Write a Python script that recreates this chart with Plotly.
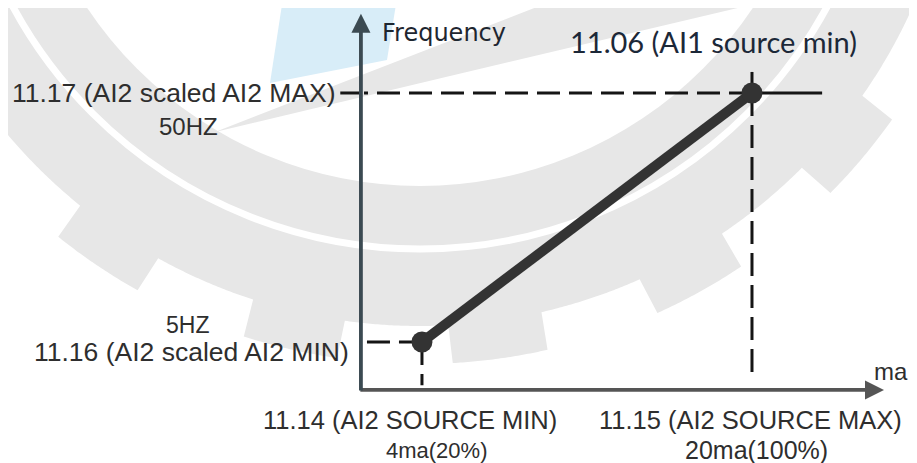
import numpy as np
import plotly.graph_objects as go

# === Datos: entrada analogica (mA) contra frecuencia de salida (Hz) ===
source_ma = [4, 20]
freq_hz = [5, 50]

W, H = 917, 463
OFF = 8  # margen por defecto del <body> en la pagina

# ejes (unidades de datos)
x_range = [-16.07, 28.0]
y_range = [-16.87, 65.36]
x0, y0 = 1.04, -3.67          # origen de los ejes dibujados
x_tip, y_tip = 26.4, 64.3     # puntas de flecha


def px(x):
    return (x - OFF) / (W - OFF)


def py(y):
    return 1 - (y - OFF) / (H - OFF)


def to_path(pts):
    return "M " + " L ".join(f"{px(a):.5f},{py(b):.5f}" for a, b in pts) + " Z"


# === Marca de agua (engranaje gris + bloque celeste) ===
cx, cy = 420, -214
ang = np.radians(np.linspace(-20, 200, 881))
teeth = [40, 61, 82, 103, 124, 145, 166, 19]
r = np.full_like(ang, 540.0)
for t in teeth:
    r[np.abs(np.degrees(ang) - t) < 5] = 578.0
gear = [(cx + rr * np.cos(a), cy + rr * np.sin(a)) for a, rr in zip(ang, r)] + [(cx, cy)]

shapes = [
    dict(type="path", path=to_path(gear), xref="paper", yref="paper",
         fillcolor="#e7e7e7", line=dict(width=0), layer="below"),
    dict(type="circle", xref="paper", yref="paper",
         x0=px(cx - 400), x1=px(cx + 400), y0=py(cy + 400), y1=py(cy - 400),
         fillcolor="white", line=dict(width=0), layer="below"),
    dict(type="circle", xref="paper", yref="paper",
         x0=px(cx - 463), x1=px(cx + 463), y0=py(cy + 463), y1=py(cy - 463),
         line=dict(color="white", width=7), layer="below"),
    dict(type="path", path=to_path([(215, 132), (560, -2), (780, -2), (450, 76)]),
         xref="paper", yref="paper", fillcolor="#e7e7e7", line=dict(width=0), layer="below"),
    dict(type="path", path=to_path([(283, -2), (397, -2), (387, 60), (270, 83)]),
         xref="paper", yref="paper", fillcolor="#d8edf8", line=dict(width=0), layer="below"),
]

fig = go.Figure()

# lineas guia discontinuas (dibujadas desde el punto hacia el eje)
guia = dict(color="#151515", width=3, dash="23px,9px")
solida = dict(color="#151515", width=3)
fig.add_trace(go.Scatter(x=[source_ma[1], x0 + 0.15], y=[freq_hz[1], freq_hz[1]], mode="lines", line=guia))
fig.add_trace(go.Scatter(x=[source_ma[1], source_ma[1]], y=[freq_hz[1], -1.9], mode="lines", line=guia))
fig.add_trace(go.Scatter(x=[source_ma[0], x0 + 0.15], y=[freq_hz[0], freq_hz[0]], mode="lines", line=guia))
fig.add_trace(go.Scatter(x=[source_ma[0], source_ma[0]], y=[freq_hz[0], -2.8], mode="lines", line=guia))
fig.add_trace(go.Scatter(x=[x0 - 1.0, x0], y=[freq_hz[1], freq_hz[1]], mode="lines", line=solida))
fig.add_trace(go.Scatter(x=[source_ma[1], 23.4], y=[freq_hz[1], freq_hz[1]], mode="lines", line=solida))
fig.add_trace(go.Scatter(x=[source_ma[1], source_ma[1]], y=[freq_hz[1], 53.8], mode="lines", line=solida))

# recta de escalado
fig.add_trace(go.Scatter(x=source_ma, y=freq_hz, mode="lines+markers",
                         line=dict(color="#333333", width=10),
                         marker=dict(color="#333333", size=21)))

# ejes con flecha
arrows = [
    dict(x=x_tip, y=y0, ax=x0 - 0.1, ay=y0, arrowcolor="#555555"),
    dict(x=x0, y=y_tip, ax=x0, ay=y0 - 0.35, arrowcolor="#3b4a52"),
]
for a in arrows:
    fig.add_annotation(xref="x", yref="y", axref="x", ayref="y", text="",
                       showarrow=True, arrowhead=2, arrowsize=1.0, arrowwidth=3.8,
                       standoff=0, **a)

# textos
gris = "#2e2e2e"
labels = [
    ("Frequency", 380, 33, "left", 24, "DejaVu Sans", "#1e2630"),
    ("11.06 (AI1 source min)", 568, 42, "left", 29, "Lato", "#1c2838"),
    ("11.17 (AI2 scaled AI2 MAX)", 338, 93, "right", 26.5, "Liberation Sans", gris),
    ("50HZ", 188, 127, "center", 24, "Liberation Sans", gris),
    ("5HZ", 187, 325, "center", 23, "Liberation Sans", gris),
    ("11.16 (AI2 scaled AI2 MIN)", 351, 352, "right", 26.5, "Liberation Sans", gris),
    ("11.14 (AI2 SOURCE MIN)", 410, 420, "center", 25.5, "Liberation Sans", gris),
    ("4ma(20%)", 436, 450, "center", 22, "Liberation Sans", gris),
    ("11.15 (AI2 SOURCE MAX)", 750, 420, "center", 25.5, "Liberation Sans", gris),
    ("20ma(100%)", 756, 450, "center", 25, "Liberation Sans", gris),
    ("ma", 872, 371, "left", 24, "Liberation Sans", gris),
]
for txt, lx, ly, anchor, size, fam, col in labels:
    fig.add_annotation(xref="paper", yref="paper", x=px(lx), y=py(ly), text=txt,
                       showarrow=False, xanchor=anchor, yanchor="middle",
                       font=dict(family=fam, size=size, color=col))

fig.update_layout(
    width=W - OFF, height=H - OFF,
    margin=dict(l=0, r=0, t=0, b=0),
    paper_bgcolor="white", plot_bgcolor="white",
    showlegend=False,
    shapes=shapes,
    xaxis=dict(range=x_range, visible=False, fixedrange=True),
    yaxis=dict(range=y_range, visible=False, fixedrange=True),
)

fig.write_html("out.html")
